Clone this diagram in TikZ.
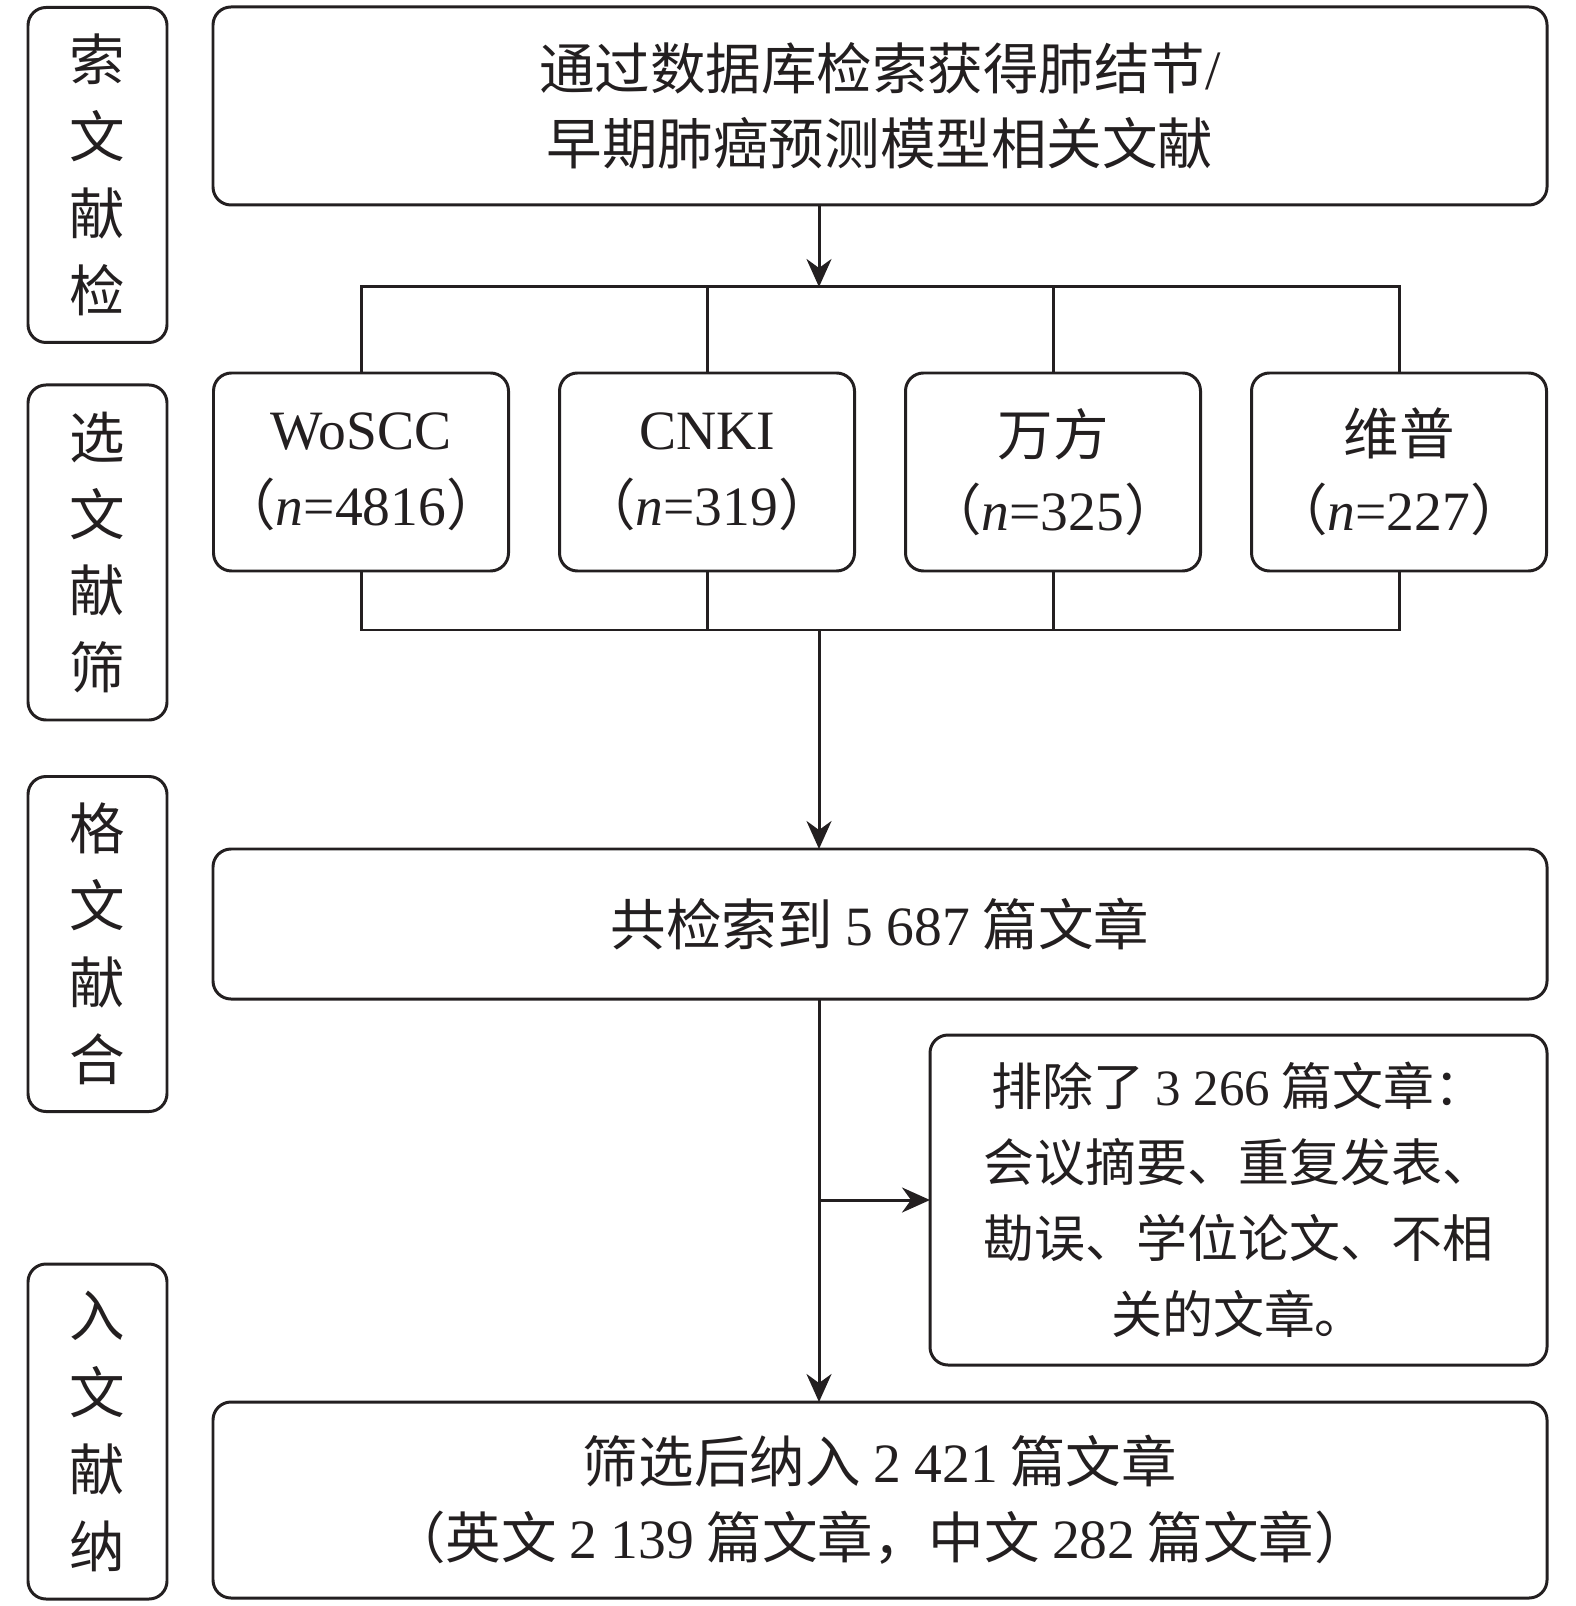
\documentclass[tikz,border=0pt]{standalone}
\usepackage{fontspec}
\setmainfont{Liberation Serif}
\newfontfamily\cjk{Noto Sans CJK SC}
\usetikzlibrary{arrows.meta,positioning}
\definecolor{ink}{HTML}{231F20}
\newcommand{\latn}[1]{{\rmfamily #1}}
\newcommand{\cnt}[1]{（\latn{\textit{n}=#1}）}

\tikzset{
  box/.style={draw=ink, line width=0.85pt, rounded corners=0.18cm, align=center, inner sep=0pt, outer sep=0pt, text=ink, font=\cjk\fontsize{15.8}{21.5}\selectfont},
  side/.style={box, minimum width=1.39cm, minimum height=3.35cm, font=\cjk\fontsize{15.8}{21.9}\selectfont},
  wide/.style={box, minimum width=13.34cm},
  db/.style={box, minimum width=2.95cm, minimum height=1.98cm},
  link/.style={draw=ink, line width=0.85pt},
  arr/.style={link, -{Stealth[length=2.8mm,width=2.5mm,inset=0.9mm]}},
}

\begin{document}
\begin{tikzpicture}
		\useasboundingbox (0,0) rectangle (15.75,-16.06);
		% left column
		\node[side] (sA) at (0.975,-1.75) {索\\文\\献\\检};
		\node[side] (sB) at (0.975,-5.525) {选\\文\\献\\筛};
		\node[side] (sC) at (0.975,-9.44) {格\\文\\献\\合};
		\node[side] (sD) at (0.975,-14.315) {入\\文\\献\\纳};
		% flow
		\node[wide, minimum height=1.98cm] (search) at (8.80,-1.06) {通过数据库检索获得肺结节\latn{/}\\早期肺癌预测模型相关文献};
		\node[db] (woscc) at (3.61,-4.72) {\latn{WoSCC}\\\cnt{4816}};
		\node[db, right=0.51cm of woscc] (cnki) {\latn{CNKI}\\\cnt{319}};
		\node[db, right=0.51cm of cnki] (wanfang) {万方\\\cnt{325}};
		\node[db, right=0.51cm of wanfang] (weipu) {维普\\\cnt{227}};
		\node[wide, minimum height=1.50cm] (total) at (8.80,-9.24) {共检索到 \latn{5 687} 篇文章};
		\node[box, minimum width=6.17cm, minimum height=3.30cm, font=\cjk\fontsize{14.5}{21.6}\selectfont] (excl) at (12.385,-12.00) {排除了 \latn{3 266} 篇文章：\\会议摘要、重复发表、\\勘误、学位论文、不相\\关的文章。};
		\node[wide, minimum height=1.96cm] (final) at (8.80,-15.00) {筛选后纳入 \latn{2 421} 篇文章\\（英文 \latn{2 139} 篇文章，中文 \latn{282} 篇文章）};
		\coordinate (split) at (8.19,-2.87);
		\coordinate (merge) at (8.19,-6.30);
		\draw[arr] (search.south -| split) -- (split);
		\draw[link] (woscc.north) |- (split) -| (weipu.north);
		\draw[link] (cnki.north) -- (cnki.north |- split);
		\draw[link] (wanfang.north) -- (wanfang.north |- split);
		\draw[link] (woscc.south) |- (merge) -| (weipu.south);
		\draw[link] (cnki.south) -- (cnki.south |- merge);
		\draw[link] (wanfang.south) -- (wanfang.south |- merge);
		\draw[arr] (merge) -- (total.north -| merge);
		\draw[arr] (total.south -| merge) -- (final.north -| merge);
		\draw[arr] (excl.west -| merge) -- (excl.west);
	\end{tikzpicture}
\end{document}
